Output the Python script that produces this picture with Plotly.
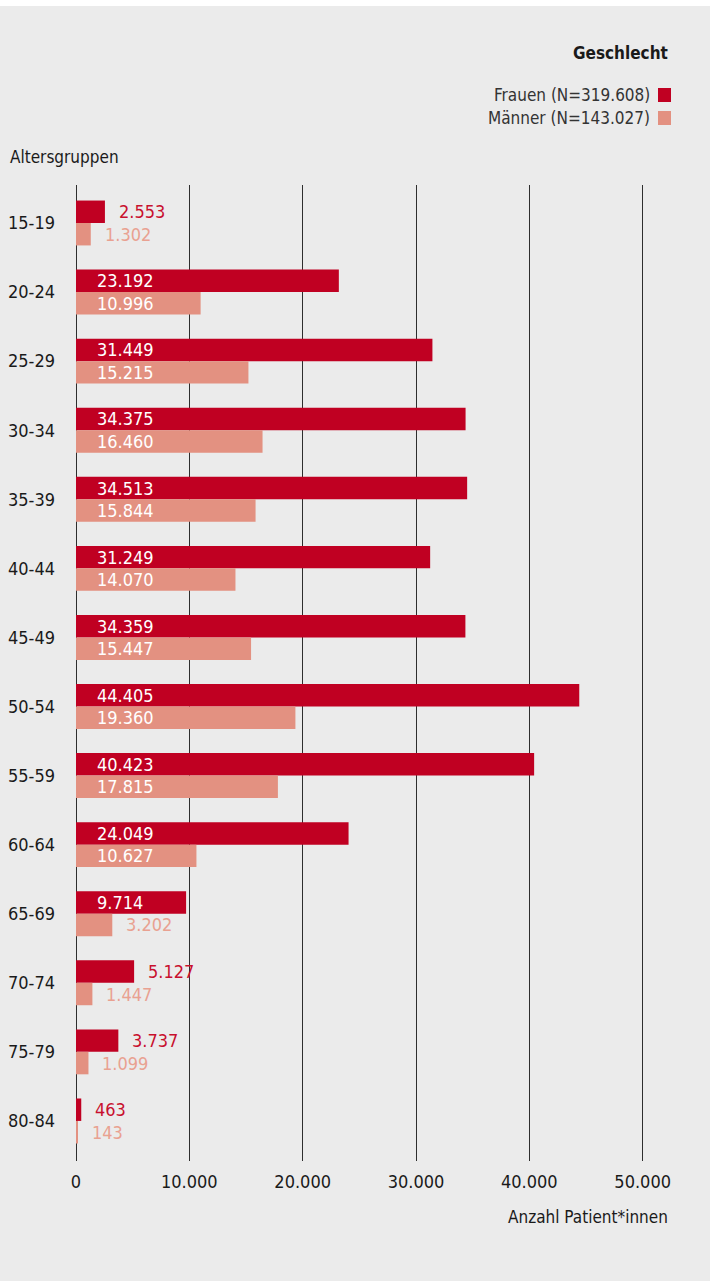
import plotly.graph_objects as go

# Altersgruppen und Fallzahlen nach Geschlecht
altersgruppen = ["15-19", "20-24", "25-29", "30-34", "35-39", "40-44", "45-49",
                 "50-54", "55-59", "60-64", "65-69", "70-74", "75-79", "80-84"]
frauen = [2553, 23192, 31449, 34375, 34513, 31249, 34359,
          44405, 40423, 24049, 9714, 5127, 3737, 463]
maenner = [1302, 10996, 15215, 16460, 15844, 14070, 15447,
           19360, 17815, 10627, 3202, 1447, 1099, 143]
x_ticks = [0, 10000, 20000, 30000, 40000, 50000]
x_ticktext = ["0", "10.000", "20.000", "30.000", "40.000", "50.000"]

FRAUEN_COL = "#c00022"
MAENNER_COL = "#e39181"
FRAUEN_TXT = "#c8102e"
MAENNER_TXT = "#e9a191"
BG = "#ebebeb"
FONT = "DejaVu Sans Condensed, Liberation Sans Narrow, DejaVu Sans, sans-serif"

W, H = 710, 1281
ML, MR, MT, MB = 76, 56, 185, 120
PW, PH = W - ML - MR, H - MT - MB
X_MAX = 51000
BARGAP = 0.35


def px_x(px):
    return (px - ML) / PW


def px_y(py):
    return (H - MB - py) / PH


def fmt(v):
    return f"{v:,}".replace(",", ".")


idx = list(range(len(altersgruppen)))

fig = go.Figure()
fig.add_trace(go.Bar(y=idx, x=frauen, orientation="h", name="Frauen",
                     marker=dict(color=FRAUEN_COL, line=dict(width=0)),
                     hoverinfo="skip"))
fig.add_trace(go.Bar(y=idx, x=maenner, orientation="h", name="Männer",
                     marker=dict(color=MAENNER_COL, line=dict(width=0)),
                     hoverinfo="skip"))

# value labels: inside the bar (white) when it is wide enough, else after its end
half = (1 - BARGAP) / 4
px_per_unit = PW / X_MAX
annotations = []
for series, sign, out_col in ((frauen, -1, FRAUEN_TXT), (maenner, 1, MAENNER_TXT)):
    for i, v in enumerate(series):
        text = fmt(v)
        inside = v * px_per_unit > 19 + 9.5 * len(text) + 8
        annotations.append(dict(
            x=0 if inside else v, y=i + sign * half, xref="x", yref="y",
            text=text, showarrow=False, xanchor="left", yanchor="middle",
            xshift=19 if inside else 12,
            font=dict(family=FONT, size=18, color="white" if inside else out_col)))

# titles and legend text
annotations += [
    dict(x=px_x(670), y=px_y(53), xref="paper", yref="paper", text="<b>Geschlecht</b>",
         showarrow=False, xanchor="right", yanchor="middle",
         font=dict(family=FONT, size=17, color="#1a1a1a")),
    dict(x=px_x(652), y=px_y(95), xref="paper", yref="paper", text="Frauen (N=319.608)",
         showarrow=False, xanchor="right", yanchor="middle",
         font=dict(family=FONT, size=17, color="#333333")),
    dict(x=px_x(652), y=px_y(118), xref="paper", yref="paper", text="Männer (N=143.027)",
         showarrow=False, xanchor="right", yanchor="middle",
         font=dict(family=FONT, size=17, color="#333333")),
    dict(x=px_x(8), y=px_y(157), xref="paper", yref="paper", text="Altersgruppen",
         showarrow=False, xanchor="left", yanchor="middle",
         font=dict(family=FONT, size=17, color="#1a1a1a")),
    dict(x=px_x(670), y=px_y(1217), xref="paper", yref="paper", text="Anzahl Patient*innen",
         showarrow=False, xanchor="right", yanchor="middle",
         font=dict(family=FONT, size=17, color="#1a1a1a")),
]

shapes = [
    # thin white band along the top edge
    dict(type="rect", xref="paper", yref="paper", x0=px_x(0), x1=px_x(W),
         y0=px_y(6), y1=px_y(0), fillcolor="white", line=dict(width=0), layer="below"),
    # legend swatches
    dict(type="rect", xref="paper", yref="paper", x0=px_x(658), x1=px_x(671),
         y0=px_y(102), y1=px_y(88), fillcolor=FRAUEN_COL, line=dict(width=0)),
    dict(type="rect", xref="paper", yref="paper", x0=px_x(658), x1=px_x(671),
         y0=px_y(125), y1=px_y(111), fillcolor=MAENNER_COL, line=dict(width=0)),
]

fig.update_layout(
    width=W, height=H,
    margin=dict(l=ML, r=MR, t=MT, b=MB, pad=0, autoexpand=False),
    paper_bgcolor=BG, plot_bgcolor=BG,
    barmode="group", bargap=BARGAP, bargroupgap=0,
    showlegend=False,
    font=dict(family=FONT, size=18, color="#1a1a1a"),
    annotations=annotations, shapes=shapes,
    xaxis=dict(range=[0, X_MAX], tickvals=x_ticks, ticktext=x_ticktext,
               showgrid=True, gridcolor="#2e2e2e", gridwidth=1.2,
               zeroline=True, zerolinecolor="#2e2e2e", zerolinewidth=1.2,
               showline=False, ticks="", ticklabelstandoff=8, automargin=False,
               tickfont=dict(family=FONT, size=18, color="#1a1a1a"), fixedrange=True),
    yaxis=dict(range=[len(altersgruppen) - 1 + 0.58, -0.55],
               tickvals=idx, ticktext=altersgruppen,
               showgrid=False, zeroline=False, showline=False, ticks="",
               ticklabelstandoff=20, automargin=False,
               tickfont=dict(family=FONT, size=18, color="#1a1a1a"), fixedrange=True),
)

fig.write_html("out.html")
